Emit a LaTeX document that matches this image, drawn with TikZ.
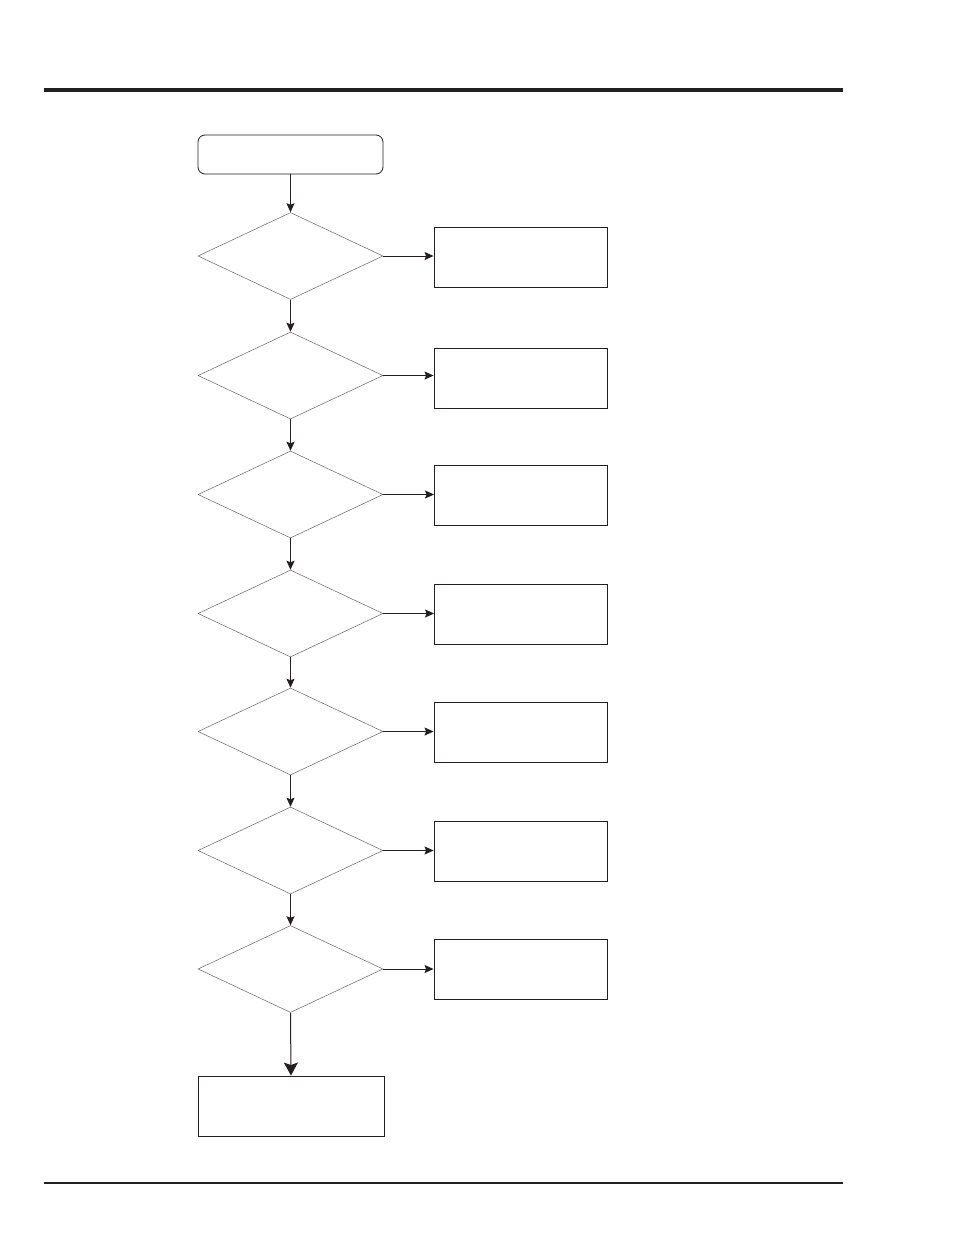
\documentclass[tikz,border=0pt]{standalone}
\usetikzlibrary{shapes.geometric,arrows.meta}
\definecolor{ink}{HTML}{231F20}
\begin{document}
\begin{tikzpicture}[x=1pt,y=-1pt,
  startbox/.style={draw=ink,line width=0.8pt,rounded corners=7pt,minimum width=185pt,minimum height=39pt,inner sep=0pt},
  dec/.style={draw=ink!70,line width=0.5pt,diamond,minimum width=185pt,minimum height=87pt,inner sep=0pt},
  actbox/.style={draw=ink,line width=0.9pt,minimum width=173pt,minimum height=60pt,inner sep=0pt},
  endbox/.style={draw=ink,line width=0.9pt,minimum width=186pt,minimum height=60pt,inner sep=0pt},
  flow/.style={draw=ink,line width=0.9pt,-{Stealth[length=9pt,width=8pt,inset=1.5pt]}},
  bigflow/.style={draw=ink,line width=1pt,-{Stealth[length=13pt,width=14pt,inset=2.5pt]}}]
\useasboundingbox (0,0) rectangle (954,1235);
\fill[ink] (44,88) rectangle (843,92);
\draw[ink,line width=1.2pt] (44,1183) -- (843,1183);
\node[startbox] (s) at (290.5,154.5) {};
\foreach \i/\y/\by/\bx in {1/256/257/520.5,2/375.5/378/520.5,3/494.5/495/521,4/613.5/614/521,5/731.5/732/520.5,6/850.5/851/520.5,7/969/969/520.5}{
  \node[dec] (d\i) at (290.5,\y) {};
  \node[actbox] (b\i) at (\bx,\by) {};
  \draw[flow] (d\i.east) -- (d\i.east -| b\i.west);
}
\draw[flow] (s) -- (d1.north);
\foreach \i [evaluate=\i as \j using int(\i+1)] in {1,...,6}{
  \draw[flow] (d\i.south) -- (d\j.north);
}
\node[endbox] (e) at (291,1106) {};
\draw[bigflow] (d7.south) -- (e.north);
\end{tikzpicture}
\end{document}
